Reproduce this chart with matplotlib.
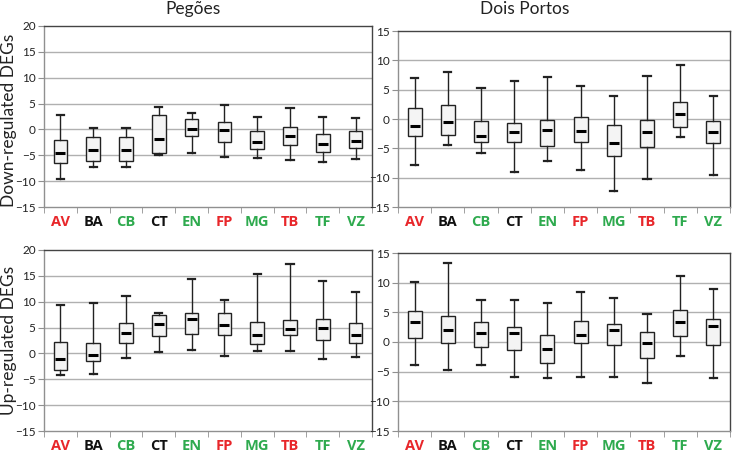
import numpy as np
import matplotlib
matplotlib.use("Agg")
from matplotlib import pyplot as plt

plt.rcParams['font.family'] = ['Lato', 'DejaVu Sans']

categories = ["AV", "BA", "CB", "CT", "EN", "FP", "MG", "TB", "TF", "VZ"]
cat_colors = ["#e8262a", "#111111", "#2eaa4e", "#111111", "#2eaa4e",
              "#e8262a", "#2eaa4e", "#e8262a", "#2eaa4e", "#2eaa4e"]

# each list: whisker low, box bottom, median, box top, whisker high
pegoes_down_low = [-9.6, -7.35, -7.35, -4.95, -4.6, -5.4, -5.55, -5.85, -6.3, -5.7]
pegoes_down_q1 = [-6.45, -6.1, -6.1, -4.65, -1.2, -2.4, -3.8, -3.1, -4.3, -3.6]
pegoes_down_med = [-4.65, -4.0, -4.0, -1.8, 0.05, -0.15, -2.4, -1.2, -2.85, -2.2]
pegoes_down_q3 = [-2.05, -1.5, -1.5, 2.7, 2.0, 1.5, -0.4, 0.45, -0.8, -0.4]
pegoes_down_high = [2.7, 0.3, 0.3, 4.4, 3.1, 4.75, 2.5, 4.05, 2.5, 2.2]

dois_down_low = [-7.9, -4.4, -5.85, -9.0, -7.15, -8.7, -12.35, -10.25, -3.05, -9.6]
dois_down_q1 = [-2.9, -2.65, -3.9, -3.9, -4.55, -3.9, -6.35, -4.85, -1.4, -4.05]
dois_down_med = [-1.2, -0.55, -2.95, -2.25, -1.85, -2.0, -4.05, -2.25, 0.8, -2.3]
dois_down_q3 = [1.8, 2.4, -0.3, -0.7, -0.1, 0.4, -1.05, -0.1, 2.95, -0.3]
dois_down_high = [7.0, 7.95, 5.3, 6.5, 7.15, 5.7, 3.9, 7.4, 9.15, 4.0]

pegoes_up_low = [-4.2, -4.0, -0.8, 0.2, 0.7, -0.45, 0.45, 0.45, -1.05, -0.65]
pegoes_up_q1 = [-3.2, -1.55, 2.1, 3.35, 3.8, 3.65, 1.75, 3.5, 2.6, 2.1]
pegoes_up_med = [-1.05, -0.4, 3.95, 5.65, 6.7, 5.55, 3.5, 4.75, 4.9, 3.6]
pegoes_up_q3 = [2.3, 2.1, 5.85, 7.35, 7.9, 7.9, 6.1, 6.45, 6.6, 5.85]
pegoes_up_high = [9.3, 9.7, 11.1, 7.8, 14.4, 10.3, 15.4, 17.35, 14.05, 11.8]

dois_up_low = [-3.95, -4.8, -3.8, -5.95, -6.05, -5.95, -5.95, -6.85, -2.35, -6.1]
dois_up_q1 = [0.65, -0.1, -0.8, -1.4, -3.5, -0.15, -0.55, -2.75, 1.05, -0.55]
dois_up_med = [3.35, 2.05, 1.55, 1.55, -1.2, 1.25, 2.05, -0.15, 3.45, 2.7]
dois_up_q3 = [5.15, 4.4, 3.35, 2.45, 1.15, 3.6, 3.1, 1.65, 5.45, 3.95]
dois_up_high = [10.1, 13.25, 7.05, 7.05, 6.65, 8.4, 7.35, 4.65, 11.15, 8.95]


def draw_panel(ax, low, q1, med, q3, high, ymax):
    pos = np.arange(1, len(categories) + 1)
    stats = []
    for i in range(len(categories)):
        stats.append(dict(whislo=low[i], q1=q1[i], med=med[i], q3=q3[i], whishi=high[i]))

    for y in np.arange(-10, ymax, 5):
        ax.axhline(y, color="#b0b0b0", lw=1.0, zorder=0)

    ax.bxp(stats, positions=pos, widths=0.42, showfliers=False, patch_artist=True,
           boxprops=dict(facecolor="#f4f4f4", edgecolor="#222222", linewidth=1.0),
           whiskerprops=dict(color="#222222", linewidth=1.0),
           capprops=dict(color="#222222", linewidth=1.6),
           capwidths=0.22,
           medianprops=dict(linewidth=0))
    ax.plot(pos, med, ls="none", marker="_", ms=6.5, mew=2.2, color="black", zorder=5)

    ax.set_xlim(0.5, len(categories) + 0.5)
    ax.set_ylim(-15, ymax)
    ax.set_yticks(np.arange(-15, ymax + 1, 5))
    ax.set_xticks(pos)
    ax.set_xticklabels(categories, fontsize=10.5, fontweight="bold", family=["Open Sans", "DejaVu Sans"])
    for lbl, c in zip(ax.get_xticklabels(), cat_colors):
        lbl.set_color(c)
    ax.set_xticks(np.arange(0.5, len(categories) + 1, 1), minor=True)
    ax.tick_params(axis="x", which="major", length=0, pad=6)
    ax.tick_params(axis="x", which="minor", length=4, color="#909090", direction="out")
    ax.tick_params(axis="y", length=4, color="#909090", labelsize=8.5, labelcolor="#222222", pad=2)

    ax.spines["left"].set_color("#909090")
    ax.spines["bottom"].set_color("#909090")
    ax.spines["top"].set_color("#444444")
    ax.spines["right"].set_color("#444444")
    for s in ax.spines.values():
        s.set_linewidth(1.0)


fig = plt.figure(figsize=(7.33, 4.55), dpi=100)
W, H = 733.0, 455.0


def add_ax(x0, y0, x1, y1):
    return fig.add_axes([x0 / W, 1 - y1 / H, (x1 - x0) / W, (y1 - y0) / H])


ax1 = add_ax(44, 26, 372, 207)
draw_panel(ax1, pegoes_down_low, pegoes_down_q1, pegoes_down_med, pegoes_down_q3, pegoes_down_high, 20)
ax2 = add_ax(398, 31, 730, 207)
draw_panel(ax2, dois_down_low, dois_down_q1, dois_down_med, dois_down_q3, dois_down_high, 15)
ax3 = add_ax(44, 250, 372, 431)
draw_panel(ax3, pegoes_up_low, pegoes_up_q1, pegoes_up_med, pegoes_up_q3, pegoes_up_high, 20)
ax4 = add_ax(398, 253, 730, 431)
draw_panel(ax4, dois_up_low, dois_up_q1, dois_up_med, dois_up_q3, dois_up_high, 15)

fig.text(193 / W, 1 - 9 / H, "Pegões", ha="center", va="center", fontsize=12.5, color="#222222")
fig.text(525 / W, 1 - 9 / H, "Dois Portos", ha="center", va="center", fontsize=12.5, color="#222222")
fig.text(9 / W, 1 - 120 / H, "Down-regulated DEGs", ha="center", va="center",
         rotation=90, fontsize=12.5, color="#222222")
fig.text(9 / W, 1 - 340 / H, "Up-regulated DEGs", ha="center", va="center",
         rotation=90, fontsize=12.5, color="#222222")

fig.savefig("out.png", dpi=100)
